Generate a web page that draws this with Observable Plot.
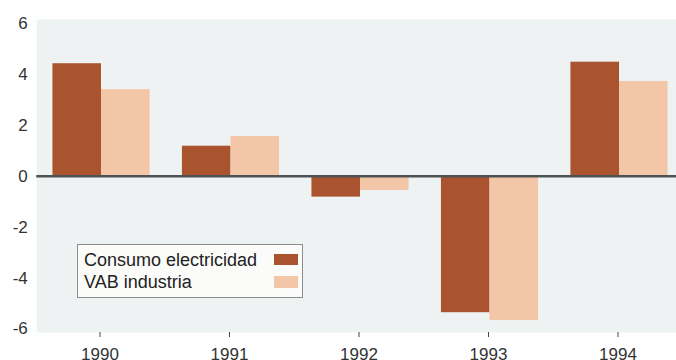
<!DOCTYPE html>
<html>
<head>
<meta charset="utf-8">
<script src="https://cdn.jsdelivr.net/npm/d3@7"></script>
<script src="https://cdn.jsdelivr.net/npm/@observablehq/plot@0.6"></script>
<style>
  html, body { margin: 0; padding: 0; background: #fff; overflow: hidden; }
  #chart { position: relative; width: 676px; height: 360px; }
  #chart svg { display: block; }
  .legend {
    position: absolute; left: 77px; top: 244px; width: 226px; height: 54px;
    box-sizing: border-box; border: 1px solid #8c8c8c; background: #fbfbfa;
    padding: 4px 0 0 6px; font: 18px/22px "Liberation Sans", Arial, sans-serif; color: #222;
  }
  .legend .sw { position: absolute; left: 196px; width: 24px; }
</style>
</head>
<body>
<div id="chart"></div>
<script>
// Annual growth rates (%): electricity consumption vs. industrial GVA
const years = [1990, 1991, 1992, 1993, 1994];
const series = ["Consumo electricidad", "VAB industria"];
const consumo = [4.42, 1.18, -0.82, -5.36, 4.48];
const vab = [3.40, 1.56, -0.56, -5.67, 3.72];
const yTicks = [-6, -4, -2, 0, 2, 4, 6];
const colors = ["#a9542f", "#f3c6a7"];

// Long table: one row per bar; the first series sits left of the year, the second right
const rows = years.flatMap((year, i) => [
  {year, serie: series[0], value: consumo[i], x1: year - 0.375, x2: year},
  {year, serie: series[1], value: vab[i], x1: year, x2: year + 0.375}
]);

const chart = Plot.plot({
  width: 676,
  height: 360,
  marginLeft: 36.25,
  marginRight: -7.75,
  marginTop: 19,
  marginBottom: 28,
  style: {fontFamily: "'Liberation Sans', Arial, sans-serif", color: "#333", background: "transparent"},
  x: {domain: [1989.5, 1994.5], label: null},
  y: {domain: [-6, 6], insetTop: 4, insetBottom: 3.5, label: null},
  color: {domain: series, range: colors},
  marks: [
    Plot.frame({fill: "#eef2f3", stroke: "none"}),
    Plot.rectY(rows, {x1: "x1", x2: "x2", y1: 0, y2: "value", fill: "serie"}),
    Plot.ruleY([0], {stroke: "#4d5255", strokeWidth: 2.5}),
    Plot.axisY({ticks: yTicks, tickFormat: d => String(d), tickSize: 0, tickPadding: 9, fontSize: 17, label: null}),
    Plot.axisX({ticks: years, tickFormat: d => String(d), tickSize: 5, tickPadding: 10, fontSize: 17, stroke: "#444", dx: -1.5, label: null})
  ]
});

const root = document.getElementById("chart");
root.appendChild(chart);

// Boxed legend inside the plot area
const colorScale = chart.scale("color");
const legend = document.createElement("div");
legend.className = "legend";
const swatchTops = [10, 32];
const swatchHeights = [11, 12];
colorScale.domain.forEach((name, i) => {
  const line = document.createElement("div");
  line.textContent = name;
  legend.appendChild(line);
  const sw = document.createElement("div");
  sw.className = "sw";
  sw.style.top = (swatchTops[i] - 1) + "px";
  sw.style.height = swatchHeights[i] + "px";
  sw.style.background = colorScale.range[i];
  legend.appendChild(sw);
});
root.appendChild(legend);
</script>
</body>
</html>
